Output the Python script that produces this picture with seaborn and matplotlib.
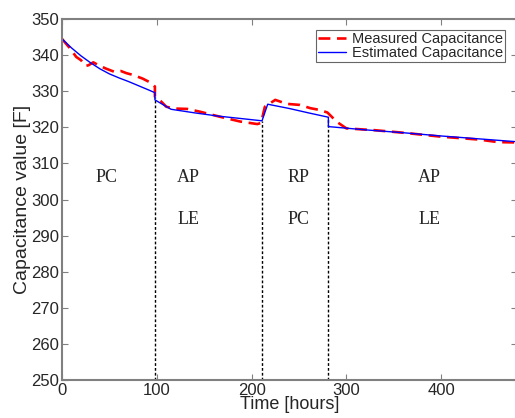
import matplotlib
matplotlib.use("Agg")
import matplotlib.pyplot as plt
import pandas as pd
import seaborn as sns

# Estimated capacitance (model output), duplicated x marks a jump
est_time = [0, 10, 20, 30, 40, 50, 60, 70, 80, 90, 98, 98, 115, 140, 165, 190,
            211, 217, 240, 260, 281, 281, 320, 360, 400, 440, 480]
est_cap = [344.5, 342.0, 339.8, 337.9, 336.2, 334.8, 333.7, 332.7, 331.6, 330.5,
           329.6, 327.6, 325.0, 324.0, 323.1, 322.4, 321.8, 326.4, 325.2, 324.0,
           322.8, 320.2, 319.3, 318.5, 317.6, 316.8, 316.0]

# Measured capacitance
meas_time = [0, 8, 15, 20, 25, 28, 33, 40, 47, 55, 62, 68, 75, 85, 94, 98, 98,
             104, 110, 118, 132, 146, 167, 188, 206, 210, 214, 225, 237, 251,
             262, 272, 280, 290, 300, 330, 360, 400, 440, 460, 480]
meas_cap = [344.5, 342.0, 339.5, 338.6, 337.0, 337.2, 338.0, 337.0, 336.2, 335.4,
            335.6, 335.0, 334.5, 333.5, 332.3, 331.3, 328.5, 327.3, 325.7, 325.2,
            325.1, 324.3, 322.9, 321.6, 320.9, 321.2, 325.7, 327.6, 326.5, 326.2,
            325.3, 324.8, 324.1, 321.5, 319.7, 319.2, 318.5, 317.4, 316.6, 315.9,
            315.8]

# Phase boundaries and labels
boundary_time = [98, 211, 281]
boundary_top = [328.5, 321.8, 322.8]
phase_top = ["PC", "AP", "RP", "AP"]
phase_bottom = ["", "LE", "PC", "LE"]
phase_x = [47, 133, 249, 388]

sns.set_style("ticks")
plt.rcParams["font.family"] = ["Liberation Sans", "DejaVu Sans"]

est = pd.DataFrame({"t": est_time, "c": est_cap})
meas = pd.DataFrame({"t": meas_time, "c": meas_cap})

fig = plt.figure(figsize=(5.15, 4.18), dpi=100)
ax = fig.add_axes([0.1204, 0.0909, 0.8835, 0.8636])

sns.lineplot(data=meas, x="t", y="c", sort=False, estimator=None, ax=ax,
             color="#ff0000", lw=1.9, label="Measured Capacitance")
ax.lines[-1].set_dashes((4.5, 2.5))
sns.lineplot(data=est, x="t", y="c", sort=False, estimator=None, ax=ax,
             color="#0000ff", lw=1.0, label="Estimated Capacitance")

ax.vlines(boundary_time, 250, boundary_top, colors="black",
          linestyles=(0, (2, 1.5)), lw=1.0, zorder=1)

for x, top, bottom in zip(phase_x, phase_top, phase_bottom):
    ax.text(x, 306.2, top, ha="center", va="center",
            family="Liberation Serif", fontsize=13)
    if bottom:
        ax.text(x, 294.6, bottom, ha="center", va="center",
                family="Liberation Serif", fontsize=13)

ax.set_xlim(0, 480)
ax.set_ylim(250, 350)
ax.set_xticks([0, 100, 200, 300, 400])
ax.set_yticks(range(250, 351, 10))
ax.set_xlabel("Time [hours]", fontsize=13, labelpad=-1)
ax.set_ylabel("Capacitance value [F]", fontsize=14, labelpad=0)
ax.tick_params(direction="in", top=True, right=True, length=4, width=0.8,
               color="#808080", labelsize=12, pad=2)
for side in ax.spines.values():
    side.set_color("#808080")
    side.set_linewidth(1.5)

leg = ax.legend(loc="upper right", bbox_to_anchor=(0.974, 0.97), fontsize=10.5,
                frameon=True, fancybox=False, edgecolor="#404040",
                handlelength=1.9, handletextpad=0.4, borderpad=0.15,
                labelspacing=0.0, borderaxespad=0)
leg.get_frame().set_linewidth(0.8)

fig.savefig("out.png", dpi=100)
